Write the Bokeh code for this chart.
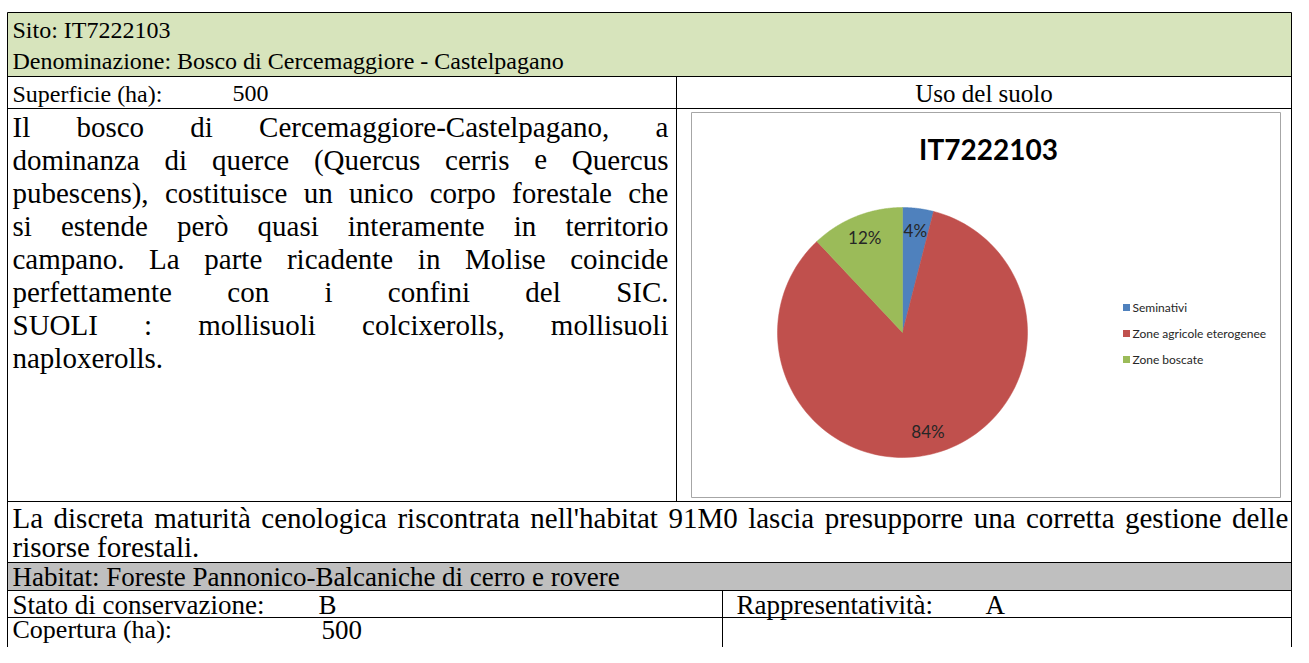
import numpy as np
from bokeh.plotting import figure
from bokeh.models import Range1d
from bokeh.embed import file_html
from bokeh.resources import INLINE
from bokeh.core.properties import value

# ---------------- data ----------------
site_code = "IT7222103"
site_name = "Bosco di Cercemaggiore - Castelpagano"
surface_ha = "500"
land_use_categories = ["Seminativi", "Zone agricole eterogenee", "Zone boscate"]
land_use_percent = [4, 84, 12]
land_use_colors = ["#4F81BD", "#C0504D", "#9BBB59"]
habitat_name = "Foreste Pannonico-Balcaniche di cerro e rovere"
conservation_state = "B"
representativity = "A"
coverage_ha = "500"
description_lines = [
    "Il bosco di Cercemaggiore-Castelpagano, a",
    "dominanza di querce (Quercus cerris e Quercus",
    "pubescens), costituisce un unico corpo forestale che",
    "si estende però quasi interamente in territorio",
    "campano. La parte ricadente in Molise coincide",
    "perfettamente con i confini del SIC.",
    "SUOLI : mollisuoli colcixerolls, mollisuoli",
    "naploxerolls.",
]
note_lines = [
    "La discreta maturità cenologica riscontrata nell'habitat 91M0 lascia presupporre una corretta gestione delle",
    "risorse forestali.",
]

# ---------------- helpers ----------------
TW = {'a':444,'b':500,'c':444,'d':500,'e':444,'f':333,'g':500,'h':500,'i':278,'j':278,'k':500,'l':278,'m':778,
      'n':500,'o':500,'p':500,'q':500,'r':333,'s':389,'t':278,'u':500,'v':500,'w':722,'x':500,'y':500,'z':444,
      'A':722,'B':667,'C':667,'D':722,'E':611,'F':556,'G':722,'H':722,'I':333,'J':389,'K':722,'L':611,'M':889,
      'N':722,'O':722,'P':556,'Q':722,'R':667,'S':556,'T':611,'U':722,'V':722,'W':944,'X':722,'Y':722,'Z':611,
      ' ':250,'.':250,',':250,':':278,'-':333,'(':333,')':333,"'":180,'à':444,'ò':500,'ù':500,'è':444,'é':444,'%':833}

def tw(s):
    return sum(TW.get(c, 500) for c in s) / 1000.0

W, H = 1293, 647
SERIF = value("Liberation Serif")

p = figure(width=W, height=H, x_range=Range1d(0, W), y_range=Range1d(H, 0),
           output_backend="svg", toolbar_location=None, min_border=0,
           x_axis_location=None, y_axis_location=None)
p.grid.visible = False
p.outline_line_color = None
p.background_fill_color = "white"
p.border_fill_color = "white"

L, R = 7, 1291
TOP, B = 12, 660
row_y = [12, 76, 108, 501, 562, 590, 617]
VDIV1 = 676
VDIV2 = 722

# fills
p.quad(left=[L], right=[R], top=[row_y[0]], bottom=[row_y[1]], fill_color="#D7E4BC", line_color=None)
p.quad(left=[L], right=[R], top=[row_y[4]], bottom=[row_y[5]], fill_color="#BFBFBF", line_color=None)

# grid lines
p.segment(x0=[L] * len(row_y), x1=[R] * len(row_y), y0=row_y, y1=row_y, line_color="black", line_width=1)
p.segment(x0=[L, R, VDIV1, VDIV2], x1=[L, R, VDIV1, VDIV2],
          y0=[TOP, TOP, row_y[1], row_y[5]], y1=[B, B, row_y[3], B],
          line_color="black", line_width=1)

def put(x, y, s, size, align="left", font=SERIF, style="normal", color="black"):
    p.text(x=[x], y=[y], text=[s], text_font=font, text_font_size=size, text_align=align,
           text_baseline="middle", text_color=color, text_font_style=style)

def justify(line, x0, x1, y, fs):
    words = line.split(" ")
    widths = [tw(w) * fs for w in words]
    gap = (x1 - x0 - sum(widths)) / (len(words) - 1)
    xs, cur = [], x0
    for w in widths:
        xs.append(cur)
        cur += w + gap
    p.text(x=xs, y=[y] * len(words), text=words, text_font=SERIF, text_font_size=f"{fs}px",
           text_align="left", text_baseline="middle", text_color="black")

# header
put(12, 29, f"Sito: {site_code}", "24px")
put(12, 60, f"Denominazione: {site_name}", "24px")
put(12, 93, "Superficie (ha):", "24px")
put(232, 93, surface_ha, "24px")
put((VDIV1 + R) / 2, 93, "Uso del suolo", "25px", align="center")

# description paragraph
FS = 29
for i, line in enumerate(description_lines):
    y = 126 + 33 * i
    if i < len(description_lines) - 1:
        justify(line, 12, 668, y, FS)
    else:
        put(12, y, line, f"{FS}px")

# note paragraph
justify(note_lines[0], 12, 1288, 517, FS)
put(12, 546, note_lines[1], f"{FS}px")

# habitat rows
put(12, 576, f"Habitat: {habitat_name}", "27px")
put(12, 604, "Stato di conservazione:", "27px")
put(318, 604, conservation_state, "27px")
put(736, 604, "Rappresentatività:", "27px")
put(985, 604, representativity, "27px")
put(12, 629, "Copertura (ha):", "26px")
put(321, 629, coverage_ha, "27px")

# chart box
p.quad(left=[691], right=[1280], top=[112], bottom=[497], fill_color="white", line_color="#A6A6A6", line_width=1)
put(988, 148, site_code, "28px", align="center", font=value("Lato"), style="bold")

# pie
CX, CY, RR = 902, 332, 125
vals = np.array(land_use_percent, dtype=float)
fr = vals / vals.sum()
ends = np.cumsum(fr) * 2 * np.pi
starts = ends - fr * 2 * np.pi
xs, ys = [], []
for a0, a1 in zip(starts, ends):
    t = np.linspace(a0, a1, 120)
    xs.append(np.concatenate([[CX], CX + RR * np.sin(t), [CX]]).tolist())
    ys.append(np.concatenate([[CY], CY - RR * np.cos(t), [CY]]).tolist())
p.patches(xs=xs, ys=ys, fill_color=land_use_colors, line_color=land_use_colors, line_width=0.5)

mid = (starts + ends) / 2
lx = CX + 0.82 * RR * np.sin(mid)
ly = CY - 0.82 * RR * np.cos(mid)
p.text(x=lx.tolist(), y=ly.tolist(), text=[f"{int(v)}%" for v in land_use_percent],
       text_font=value("Lato"), text_font_size="17px", text_align="center", text_baseline="middle",
       text_color="#262626")

# legend
leg_y = [307 + 26 * i for i in range(len(land_use_categories))]
p.scatter(x=[1126] * 3, y=leg_y, marker="square", size=7, fill_color=land_use_colors, line_color=None)
p.text(x=[1132] * 3, y=leg_y, text=land_use_categories, text_font=value("Lato"), text_font_size="12px",
       text_align="left", text_baseline="middle", text_color="#262626")

open("out.html", "w").write(file_html(p, INLINE))
